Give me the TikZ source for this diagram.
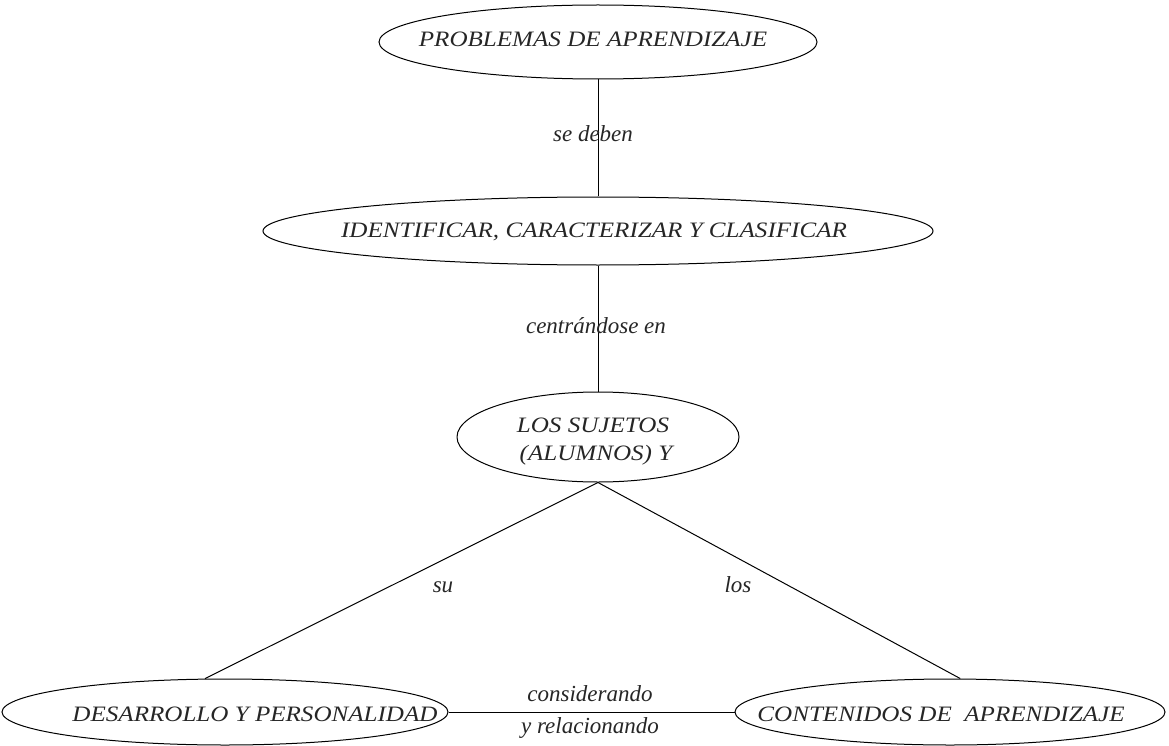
\documentclass[tikz,border=0pt]{standalone}
\usepackage{fontspec}
\newfontfamily\mainf{Liberation Serif}[FakeStretch=1.14]
\newfontfamily\labf{Liberation Serif}
\usetikzlibrary{shapes.geometric}
\begin{document}
\begin{tikzpicture}[x=1pt,y=-1pt,
  ell/.style={draw, ellipse, inner sep=0pt, line width=1pt},
  maintxt/.style={font=\mainf\itshape\fontsize{22}{26}\selectfont, anchor=base, inner sep=0pt, text=black!85},
  labtxt/.style={font=\labf\itshape\fontsize{23}{27}\selectfont, anchor=base, inner sep=0pt, text=black!85},
  conn/.style={draw, line width=1pt}]
\useasboundingbox (0,0) rectangle (1169,746);
% ellipses
\node[ell, minimum width=438pt, minimum height=74pt] (prob) at (598,42) {};
\node[ell, minimum width=670pt, minimum height=68pt] (ident) at (598,231) {};
\node[ell, minimum width=282pt, minimum height=90pt] (suj) at (598,437) {};
\node[ell, minimum width=446pt, minimum height=66pt] (des) at (225,712) {};
\node[ell, minimum width=430pt, minimum height=66pt] (con) at (950,712) {};
% texts
\node[maintxt] (tprob) at (593,46.5) {PROBLEMAS DE APRENDIZAJE};
\node[maintxt] (tident) at (594,237) {IDENTIFICAR, CARACTERIZAR Y CLASIFICAR};
\node[maintxt] (tsuj1) at (593,432) {LOS SUJETOS};
\node[maintxt] (tsuj2) at (596,460) {(ALUMNOS) Y};
\node[maintxt] (tdes) at (255,721) {DESARROLLO Y PERSONALIDAD};
\node[maintxt] (tcon) at (941,721) {CONTENIDOS DE\ \ APRENDIZAJE};
% connectors
\draw[conn] (prob) -- (ident);
\draw[conn] (ident) -- (suj);
\draw[conn] (suj.south) -- (des.121);
\draw[conn] (suj.south) -- (con.73);
\draw[conn] (des.east) -- (con.west);
% labels
\node[labtxt] (lse) at (593,142) {se deben};
\node[labtxt] (lcen) at (596,333) {centrándose en};
\node[labtxt] (lsu) at (443,592) {su};
\node[labtxt] (llos) at (738,592) {los};
\node[labtxt] (lcons) at (590,701) {considerando};
\node[labtxt] (lrel) at (590,733) {y relacionando};
\end{tikzpicture}
\end{document}
